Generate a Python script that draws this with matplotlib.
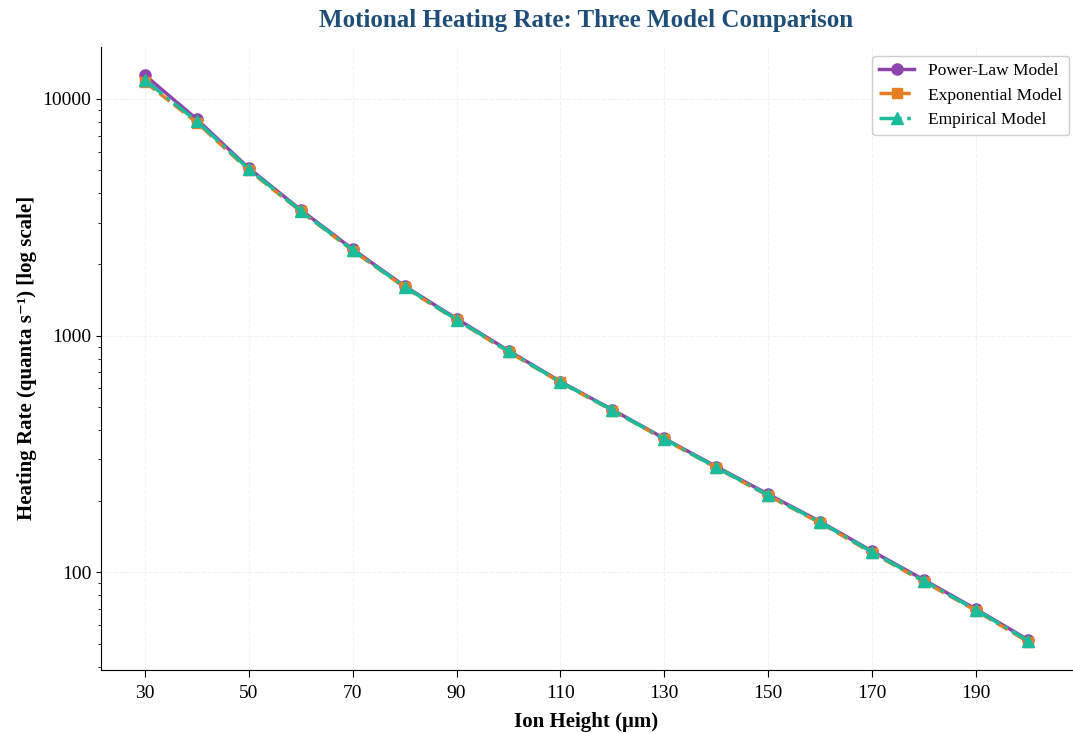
import matplotlib.pyplot as plt
from matplotlib.ticker import FuncFormatter, NullFormatter
import numpy as np

plt.rcParams['font.family'] = ['Liberation Serif', 'DejaVu Serif']

heights = [30, 40, 50, 60, 70, 80, 90, 100, 110, 120, 130, 140, 150, 160, 170, 180, 190, 200]
power_law = [12600, 8200, 5100, 3400, 2320, 1620, 1180, 865, 640, 487, 368, 280, 214, 164, 123, 93, 70, 52]
exponential = [11800, 7950, 5000, 3350, 2290, 1600, 1165, 855, 635, 483, 365, 277, 211, 162, 121, 91.5, 69, 51]
empirical = [12000, 8050, 5050, 3370, 2300, 1610, 1170, 860, 637, 485, 366, 278, 212, 163, 122, 92, 69.5, 51.5]

fig = plt.figure(figsize=(10.73, 7.33), dpi=100)
ax = fig.add_axes([0.094, 0.086, 0.905, 0.85])

ax.plot(heights, power_law, color='#8e44ad', marker='o', linestyle='-', linewidth=2.5,
        markersize=8, label='Power-Law Model')
ax.plot(heights, exponential, color='#e67e22', marker='s', linestyle='--', linewidth=2.5,
        markersize=7, label='Exponential Model')
ax.plot(heights, empirical, color='#1abc9c', marker='^', linestyle='-.', linewidth=2.5,
        markersize=8, label='Empirical Model')

ax.set_yscale('log')
ax.set_xticks(np.arange(30, 200, 20))
ax.yaxis.set_major_formatter(FuncFormatter(lambda v, p: f'{int(round(v))}'))
ax.yaxis.set_minor_formatter(NullFormatter())
ax.tick_params(labelsize=14)
ax.tick_params(axis='x', length=5, pad=6)

ax.grid(True, which='major', linestyle='--', alpha=0.25, color='#cccccc')
ax.spines['top'].set_visible(False)
ax.spines['right'].set_visible(False)

ax.set_xlabel('Ion Height (μm)', fontsize=15, fontweight='bold', labelpad=7)
ax.set_ylabel('Heating Rate (quanta s⁻¹) [log scale]', fontsize=15, fontweight='bold', labelpad=4)
ax.set_title('Motional Heating Rate: Three Model Comparison', fontsize=18,
             fontweight='bold', color='#1f4e79', pad=14)
ax.legend(loc='upper right', bbox_to_anchor=(1.006, 1.0), fontsize=12.5, framealpha=0.95)

fig.savefig('out.png', dpi=100)
